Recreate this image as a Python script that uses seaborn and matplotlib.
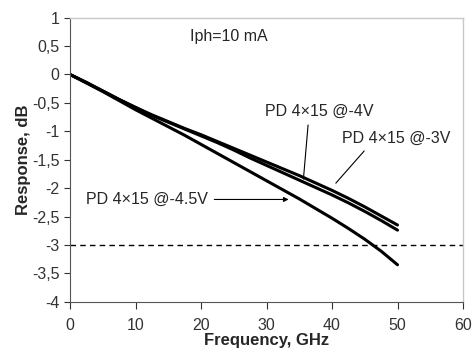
import pandas as pd
import matplotlib
matplotlib.use('Agg')
import matplotlib.pyplot as plt
import seaborn as sns

# frequency points, GHz
freq = [0, 2.5, 5, 7.5, 10, 12.5, 15, 17.5, 20, 22.5, 25,
        27.5, 30, 32.5, 35, 37.5, 40, 42.5, 45, 47.5, 50]

# response, dB
resp_3v = [0, -0.14, -0.29, -0.44, -0.58, -0.71, -0.83, -0.95, -1.06, -1.18, -1.30,
           -1.42, -1.54, -1.66, -1.78, -1.91, -2.04, -2.18, -2.33, -2.49, -2.65]
resp_4v = [0, -0.14, -0.29, -0.44, -0.58, -0.72, -0.84, -0.96, -1.08, -1.20, -1.33,
           -1.47, -1.60, -1.73, -1.86, -1.99, -2.12, -2.26, -2.41, -2.57, -2.74]
resp_45v = [0, -0.15, -0.30, -0.46, -0.62, -0.77, -0.92, -1.07, -1.23, -1.39, -1.55,
            -1.71, -1.87, -2.03, -2.19, -2.36, -2.53, -2.71, -2.90, -3.11, -3.35]

series_names = ['PD 4×15 @-3V', 'PD 4×15 @-4V', 'PD 4×15 @-4.5V']

y_ticks = [1, 0.5, 0, -0.5, -1, -1.5, -2, -2.5, -3, -3.5, -4]
y_tick_labels = ['1', '0,5', '0', '-0,5', '-1', '-1,5', '-2', '-2,5', '-3', '-3,5', '-4']
x_ticks = [0, 10, 20, 30, 40, 50, 60]

frames = []
for name, vals in zip(series_names, [resp_3v, resp_4v, resp_45v]):
    frames.append(pd.DataFrame({'Frequency': freq, 'Response': vals, 'Device': name}))
df = pd.concat(frames, ignore_index=True)

sns.set_style('white')
plt.rcParams['font.family'] = ['Liberation Sans', 'DejaVu Sans']

fig = plt.figure(figsize=(4.74, 3.53), dpi=100)
ax = fig.add_axes([0.1477, 0.1453, 0.8291, 0.8046])

sns.lineplot(data=df, x='Frequency', y='Response', hue='Device',
             palette=['black', 'black', 'black'], linewidth=2.2,
             legend=False, ax=ax)

# -3 dB reference line
ax.axhline(-3, color='black', linestyle=(0, (4, 3)), linewidth=1)

ax.set_xlim(0, 60)
ax.set_ylim(-4, 1)
ax.set_xticks(x_ticks)
ax.set_xticklabels([str(t) for t in x_ticks])
ax.set_yticks(y_ticks)
ax.set_yticklabels(y_tick_labels)
ax.tick_params(axis='both', labelsize=11.5, colors='#333333', length=4,
               width=0.8, direction='out', left=True, bottom=True)
ax.tick_params(axis='x', pad=7, length=5)

for side in ['left', 'bottom']:
    ax.spines[side].set_color('#555555')
    ax.spines[side].set_linewidth(0.8)
for side in ['top', 'right']:
    ax.spines[side].set_color('#c8c8c8')
    ax.spines[side].set_linewidth(1.0)

ax.set_xlabel('Frequency, GHz', fontsize=12, fontweight='bold', labelpad=0)
ax.set_ylabel('Response, dB', fontsize=12, fontweight='bold', labelpad=1)

# annotations
ax.text(18.3, 0.66, 'Iph=10 mA', fontsize=11.5, va='center', ha='left')
arrow = dict(arrowstyle='-|>', color='black', lw=0.8, mutation_scale=7)
ax.annotate('PD 4×15 @-4V', xy=(35.6, -1.89), xytext=(29.8, -0.65),
            fontsize=11.5, va='center', ha='left',
            arrowprops=dict(arrowstyle='-', color='black', lw=0.8, relpos=(0.4, 0)))
ax.annotate('PD 4×15 @-3V', xy=(40.3, -1.95), xytext=(41.5, -1.12),
            fontsize=11.5, va='center', ha='left',
            arrowprops=dict(arrowstyle='-', color='black', lw=0.8, relpos=(0.25, 0)))
ax.annotate('PD 4×15 @-4.5V', xy=(33.8, -2.2), xytext=(2.5, -2.2),
            fontsize=11.5, va='center', ha='left', arrowprops=dict(arrow, relpos=(1, 0.5)))

fig.savefig('out.png', dpi=100)
